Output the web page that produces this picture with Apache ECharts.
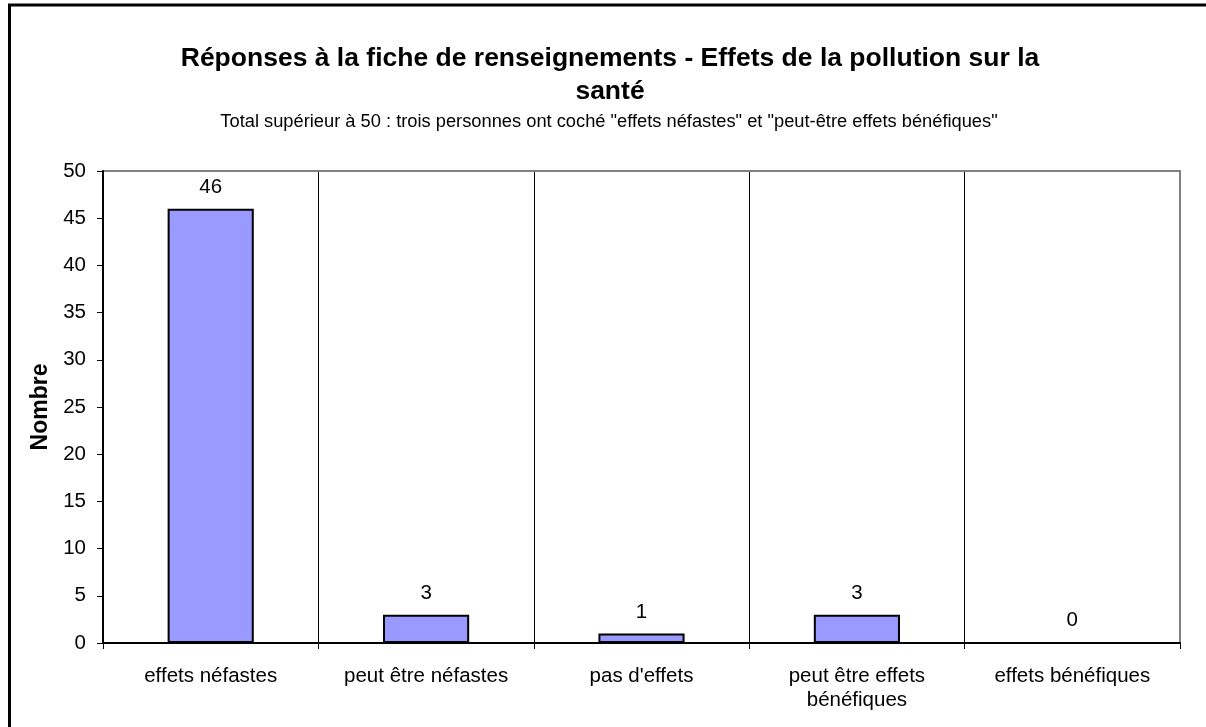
<!DOCTYPE html>
<html>
<head>
<meta charset="utf-8">
<script src="https://cdn.jsdelivr.net/npm/echarts@6/dist/echarts.min.js"></script>
<style>
  html, body { margin: 0; padding: 0; background: #fff; }
  #chart { width: 1206px; height: 727px; }
</style>
</head>
<body>
<div id="chart"></div>
<script>
// Survey answers: perceived health effects of pollution
const categories = ['effets néfastes', 'peut être néfastes', "pas d'effets", 'peut être effets\nbénéfiques', 'effets bénéfiques'];
const counts = [46, 3, 1, 3, 0];
const yTicks = { min: 0, max: 50, interval: 5 };

const FONT = '"Liberation Sans", Arial, sans-serif';
const LABEL_SIZE = 20.5;

const chart = echarts.init(document.getElementById('chart'), null, { renderer: 'canvas' });

chart.setOption({
  backgroundColor: '#ffffff',
  animation: false,
  textStyle: { fontFamily: FONT, color: '#000' },
  graphic: [
    {
      // outer frame of the chart sheet
      type: 'rect',
      shape: { x: 9.5, y: 5, width: 1300, height: 900 },
      style: { fill: 'none', stroke: '#000', lineWidth: 3 },
      silent: true
    }
  ],
  title: [
    {
      text: 'Réponses à la fiche de renseignements - Effets de la pollution sur la\nsanté',
      left: 605,
      textAlign: 'center',
      top: 37,
      textStyle: { fontFamily: FONT, fontWeight: 'bold', fontSize: 26.5, lineHeight: 33, color: '#000' }
    },
    {
      text: 'Total supérieur à 50 : trois personnes ont coché "effets néfastes" et "peut-être effets bénéfiques"',
      left: 604,
      textAlign: 'center',
      top: 108,
      textStyle: { fontFamily: FONT, fontWeight: 'normal', fontSize: 18.3, color: '#000' }
    }
  ],
  grid: {
    left: 103, right: 26, top: 171, bottom: 84,
    show: true,
    z: 3,
    borderColor: '#808080',
    borderWidth: 2,
    backgroundColor: 'transparent'
  },
  xAxis: [
    {
      // main category axis: line, ticks and labels
      type: 'category',
      data: categories,
      boundaryGap: true,
      z: 4,
      axisLine: { show: true, lineStyle: { color: '#000', width: 2 } },
      axisTick: { show: true, length: 6, lineStyle: { color: '#000', width: 1 } },
      axisLabel: { fontFamily: FONT, fontSize: LABEL_SIZE, color: '#000', margin: 21, lineHeight: 24, interval: 0 },
      splitLine: { show: false }
    },
    {
      // overlay axis that only draws the category separators, under the plot border
      type: 'category',
      data: categories,
      boundaryGap: true,
      position: 'bottom',
      z: 0,
      axisLine: { show: false },
      axisTick: { show: false },
      axisLabel: { show: false },
      splitLine: { show: true, lineStyle: { color: '#000', width: 1 } }
    }
  ],
  yAxis: {
    type: 'value',
    min: yTicks.min, max: yTicks.max, interval: yTicks.interval,
    z: 4,
    name: 'Nombre',
    nameLocation: 'middle',
    nameGap: 51,
    nameTextStyle: { fontFamily: FONT, fontWeight: 'bold', fontSize: 23, color: '#000' },
    axisLine: { show: true, lineStyle: { color: '#000', width: 2 } },
    axisTick: { show: true, length: 6, lineStyle: { color: '#000', width: 1 } },
    axisLabel: { fontFamily: FONT, fontSize: LABEL_SIZE, color: '#000', margin: 17 },
    splitLine: { show: false }
  },
  series: [
    {
      type: 'bar',
      xAxisIndex: 0,
      data: counts,
      barCategoryGap: '60%',
      itemStyle: { color: '#9999FF', borderColor: '#000', borderWidth: 2 },
      label: {
        show: true,
        position: 'top',
        distance: 11,
        fontFamily: FONT,
        fontSize: LABEL_SIZE,
        color: '#000'
      }
    }
  ]
});
</script>
</body>
</html>
